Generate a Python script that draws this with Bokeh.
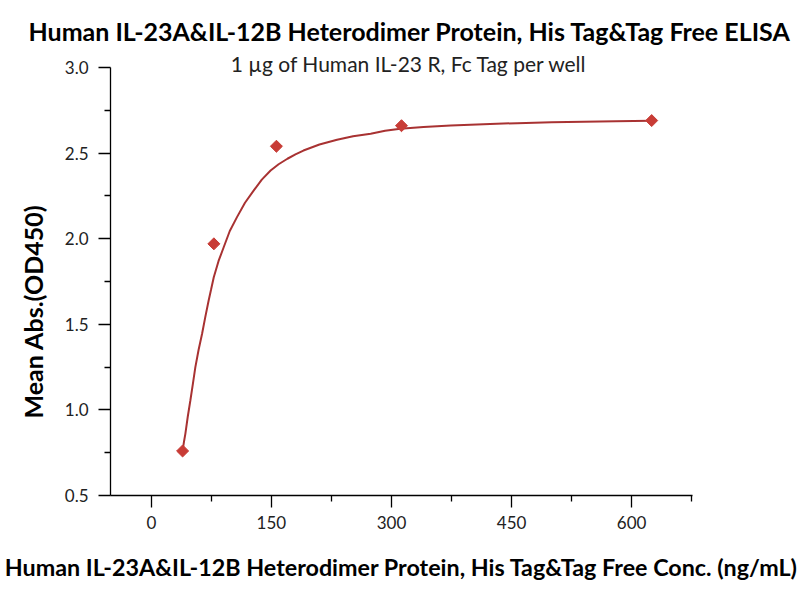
import math
from bokeh.plotting import figure
from bokeh.models import Label, Range1d, FixedTicker, NumeralTickFormatter, Title
from bokeh.embed import file_html
from bokeh.resources import INLINE

# measured points
conc = [39.06, 78.13, 156.25, 312.5, 625.0]
od450 = [0.76, 1.97, 2.54, 2.66, 2.69]

# fitted curve
curve_x = [39, 41, 42.5, 45.5, 48.75, 52, 55, 59, 63.4, 67.5, 71.6, 74.5, 78, 84,
           90.4, 98, 107, 117, 128, 138, 149, 159, 170, 180, 190, 210, 232, 252,
           274, 292, 311, 340, 374, 415, 457, 500, 540, 580, 625]
curve_y = [0.76, 0.82, 0.86, 0.96, 1.055, 1.155, 1.25, 1.35, 1.445, 1.545, 1.639,
           1.70, 1.775, 1.87, 1.950, 2.045, 2.126, 2.21, 2.282, 2.345, 2.398,
           2.435, 2.467, 2.492, 2.515, 2.55, 2.578, 2.598, 2.613, 2.630, 2.642,
           2.652, 2.661, 2.669, 2.675, 2.680, 2.683, 2.686, 2.689]

x_ticks = [0, 150, 300, 450, 600]
x_minor = [75, 225, 375, 525, 675]
y_ticks = [0.5, 1.0, 1.5, 2.0, 2.5, 3.0]
y_minor = [0.75, 1.25, 1.75, 2.25, 2.75]

title = "Human IL-23A&IL-12B Heterodimer Protein, His Tag&Tag Free ELISA"
subtitle = "1 \u00b5g of Human IL-23 R, Fc Tag per well"
x_label = "Human IL-23A&IL-12B Heterodimer Protein, His Tag&Tag Free Conc. (ng/mL)"
y_label = "Mean Abs.(OD450)"

FONT = "Lato"
Y_TOP = 3.0 + (67 - 52) / 171.2   # a bit of room above 3.0 for the subtitle

p = figure(width=800, height=600, output_backend="svg", toolbar_location=None,
           x_range=Range1d(-51, 676), y_range=Range1d(0.5, Y_TOP),
           min_border_left=110, min_border_right=108,
           min_border_top=52, min_border_bottom=105)
p.outline_line_color = None
p.grid.visible = False

p.title.text = title
p.title.align = "left"
p.title.offset = -82
p.title.text_font = FONT
p.title.text_font_style = "bold"
p.title.text_font_size = "25px"
p.title.text_color = "black"
p.title.standoff = 14

p.line(curve_x, curve_y, line_color="#A83232", line_width=2)
p.scatter(conc, od450, marker="square", angle=math.pi / 4, size=8.5,
          fill_color="#C83C36", line_color="#C83C36")

for ax in (p.xaxis, p.yaxis):
    ax.axis_line_color = "black"
    ax.axis_line_width = 1.3
    ax.major_tick_line_color = "black"
    ax.minor_tick_line_color = "black"
    ax.major_tick_line_width = 1.3
    ax.minor_tick_line_width = 1.3
    ax.major_tick_out = 12
    ax.major_tick_in = 0
    ax.minor_tick_out = 6
    ax.minor_tick_in = 0
    ax.major_label_text_font = FONT
    ax.major_label_text_font_size = "17px"
    ax.major_label_text_color = "#222222"

p.xaxis.ticker = FixedTicker(ticks=x_ticks, minor_ticks=x_minor)
p.yaxis.ticker = FixedTicker(ticks=y_ticks, minor_ticks=y_minor)
p.yaxis.bounds = (0.5, 3.0)
p.yaxis.formatter = NumeralTickFormatter(format="0.0")
p.xaxis.major_label_standoff = 8
p.yaxis.major_label_standoff = 10

p.xaxis.axis_label = x_label
p.xaxis.axis_label_text_font = FONT
p.xaxis.axis_label_text_font_style = "bold"
p.xaxis.axis_label_text_font_size = "23.3px"
p.xaxis.axis_label_text_color = "black"
p.xaxis.axis_label_standoff = 21

p.add_layout(Title(text=y_label, align="left", offset=77, standoff=28,
                   text_font=FONT, text_font_style="bold", text_font_size="25px",
                   text_color="black"), "left")

# subtitle sits at the top of the frame, centred a little right
p.add_layout(Label(x=322, y=3.023, text=subtitle, text_font=FONT,
                   text_font_size="21px", text_align="center",
                   text_baseline="middle", text_color="#222222"))

open("out.html", "w").write(file_html(p, INLINE))
